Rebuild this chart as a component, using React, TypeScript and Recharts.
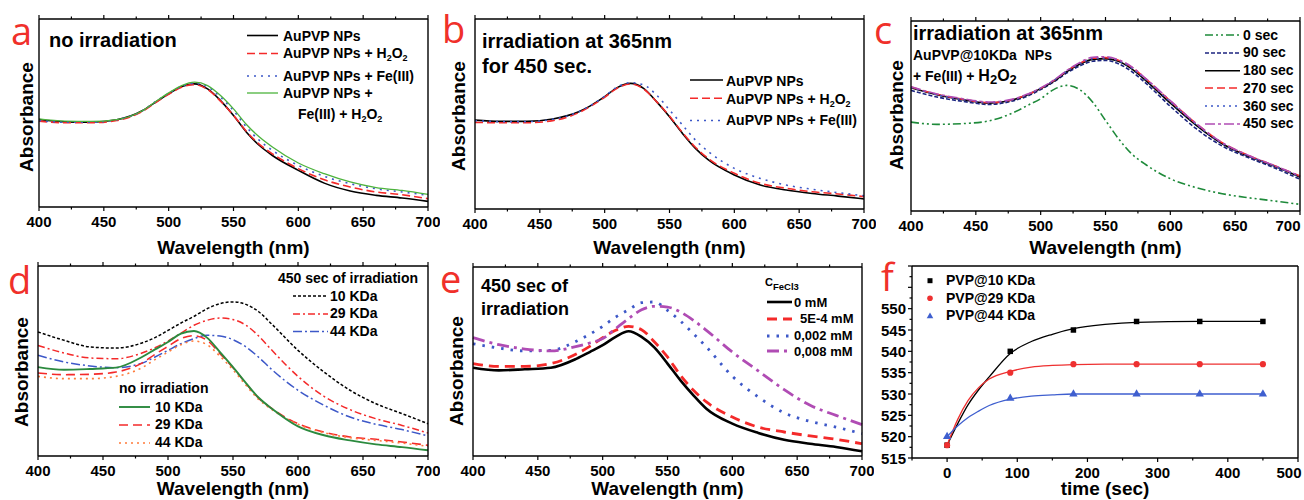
import React from 'react';
import { LineChart, ComposedChart, Line, Scatter, XAxis, YAxis, ZAxis } from 'recharts';

// ---------------- DATA ----------------
const WAVELENGTHS = [400, 420, 440, 460, 480, 490, 500, 510, 520, 530, 540, 550, 560, 570, 580, 600, 620, 640, 660, 680, 700];
const WL_TICKS = [400, 425, 450, 475, 500, 525, 550, 575, 600, 625, 650, 675, 700];

// panel a (no irradiation)
const A_AU = [46.5, 45.3, 45.1, 46.4, 51.3, 55.8, 60.2, 64.1, 65.5, 62.8, 56.6, 48.7, 39.8, 32.7, 27.4, 19.5, 12.7, 8.5, 6.2, 4.8, 3.0];
const A_H2O2 = [45.7, 44.8, 44.8, 46.0, 51.0, 55.6, 60.0, 63.7, 65.1, 62.5, 56.3, 48.7, 40.2, 33.3, 28.3, 20.4, 14.5, 10.6, 8.0, 6.5, 4.4];
const A_FE = [46.0, 45.1, 45.1, 46.4, 51.3, 56.1, 60.5, 64.2, 65.8, 64.0, 58.4, 51.3, 42.5, 35.4, 30.1, 22.1, 16.3, 12.4, 9.7, 8.0, 6.2];
const A_FE_H2O2 = [46.9, 45.7, 45.5, 46.5, 51.3, 56.1, 60.7, 64.6, 66.4, 64.6, 59.3, 52.2, 43.9, 37.2, 31.9, 23.4, 17.7, 13.3, 10.3, 8.8, 6.7];

// panel b (irradiation 450 s)
const B_AU = [46.8, 46.1, 46.1, 47.4, 51.2, 54.7, 59.1, 64.0, 66.1, 63.5, 56.5, 48.6, 39.8, 31.9, 25.8, 17.9, 12.6, 10.0, 8.2, 6.8, 5.3];
const B_H2O2 = [45.6, 45.4, 45.4, 46.5, 50.7, 54.4, 58.8, 63.7, 65.8, 63.2, 56.5, 48.9, 40.2, 32.5, 26.5, 18.8, 13.5, 10.9, 9.1, 7.9, 6.5];
const B_FE = [46.5, 46.0, 46.0, 47.2, 51.2, 54.9, 59.3, 64.4, 66.5, 65.3, 60.0, 52.1, 44.2, 36.3, 30.2, 21.4, 16.1, 12.6, 10.4, 8.6, 7.0];

// panel c (time series)
const C_0 = [46.8, 45.6, 46.0, 47.4, 52.1, 55.6, 59.1, 63.9, 66.1, 63.9, 57.4, 47.7, 38.1, 30.2, 24.9, 17.0, 12.3, 9.1, 7.0, 5.3, 3.5];
const C_90 = [63.5, 60.0, 57.7, 56.1, 58.2, 60.5, 63.9, 67.9, 72.6, 76.3, 78.8, 79.3, 77.5, 73.5, 67.9, 55.1, 43.3, 34.2, 28.1, 22.8, 16.7];
const C_180 = [64.9, 61.2, 58.6, 56.8, 58.8, 61.2, 64.4, 68.2, 73.2, 77.2, 79.8, 80.2, 78.8, 74.9, 69.3, 56.8, 45.1, 35.4, 28.9, 23.7, 17.9];
const C_270 = [65.3, 61.4, 58.8, 57.0, 58.9, 61.4, 64.6, 68.6, 73.7, 77.7, 80.4, 80.7, 79.3, 75.8, 70.2, 57.9, 46.0, 36.0, 29.3, 24.0, 18.4];
const C_360 = [65.0, 61.2, 58.6, 57.0, 58.9, 61.4, 64.6, 68.6, 73.5, 77.5, 80.2, 80.5, 79.0, 75.4, 69.8, 57.5, 45.6, 35.6, 29.0, 23.7, 18.1];
const C_450 = [65.4, 61.6, 59.1, 57.4, 59.1, 61.6, 64.8, 68.8, 73.9, 78.1, 80.9, 81.2, 79.6, 76.0, 70.4, 58.1, 46.0, 36.0, 29.3, 24.0, 18.4];

// panel d (PVP molecular weight)
const D_10_IRR = [65.3, 60.9, 57.4, 56.8, 59.5, 62.3, 66.1, 70.0, 73.5, 77.5, 80.2, 81.1, 79.8, 75.8, 69.3, 55.6, 44.2, 34.6, 27.5, 22.3, 17.0];
const D_29_IRR = [58.2, 54.2, 51.6, 51.2, 54.2, 57.0, 60.5, 64.7, 68.8, 71.4, 72.6, 71.8, 68.8, 63.0, 55.6, 41.9, 31.4, 24.4, 19.6, 16.1, 12.1];
const D_44_IRR = [53.0, 49.5, 47.4, 46.5, 48.9, 52.1, 55.6, 59.1, 61.8, 63.5, 63.2, 61.2, 57.4, 51.8, 45.4, 34.6, 26.7, 20.5, 16.7, 13.9, 10.5];
const D_10_NO = [46.8, 45.4, 45.8, 46.5, 52.1, 56.1, 60.0, 64.4, 65.8, 62.3, 54.7, 46.8, 38.4, 30.5, 24.9, 15.6, 10.9, 8.2, 6.1, 4.7, 3.0];
const D_29_NO = [43.7, 42.8, 43.0, 44.2, 48.9, 53.5, 57.7, 61.8, 63.3, 60.9, 53.9, 46.5, 38.1, 30.2, 24.9, 17.0, 12.6, 10.0, 8.8, 7.4, 5.6];
const D_44_NO = [41.9, 40.7, 40.7, 41.9, 46.5, 50.7, 54.7, 58.6, 60.5, 58.6, 52.5, 45.4, 37.2, 29.6, 24.4, 16.7, 12.3, 9.6, 8.2, 6.8, 5.1];

// panel e (FeCl3 concentration)
const E_0 = [46.7, 45.3, 45.9, 46.7, 51.5, 55.0, 58.6, 63.0, 66.0, 63.0, 57.3, 48.9, 40.0, 32.1, 25.0, 17.1, 12.2, 8.6, 6.5, 4.8, 2.5];
const E_5E4 = [48.9, 47.4, 47.4, 48.9, 54.1, 58.0, 62.6, 66.5, 68.6, 66.8, 60.3, 52.4, 42.7, 34.8, 28.6, 20.6, 15.3, 12.7, 10.6, 8.8, 6.5];
const E_002 = [59.4, 57.1, 55.6, 55.9, 60.8, 64.4, 68.6, 73.5, 77.4, 81.1, 81.5, 77.1, 71.4, 64.7, 57.7, 42.2, 31.2, 22.8, 18.3, 15.3, 11.8];
const E_008 = [62.6, 58.9, 56.6, 55.6, 58.0, 59.8, 62.1, 67.4, 72.7, 77.4, 79.2, 78.8, 76.2, 71.8, 66.5, 55.0, 45.0, 35.1, 26.8, 21.5, 16.6];

// panel f (peak position vs time)
const F_TIMES = [0, 90, 180, 270, 360, 450];
const F_10 = [518, 540, 545, 547, 547, 547];
const F_29 = [518, 535, 537, 537, 537, 537];
const F_44 = [520, 529, 530, 530, 530, 530];
const FIT_TIMES = [0, 15, 30, 45, 60, 90, 120, 150, 180, 225, 270, 360, 450];
const FIT_10 = [518, 523, 527.5, 531, 534, 539.5, 542.3, 544, 545.3, 546.3, 546.8, 547, 547];
const FIT_29 = [518, 524, 528.5, 531.5, 533.5, 535.3, 536.3, 536.7, 536.9, 537, 537, 537, 537];
const FIT_44 = [520, 522.5, 524.5, 526, 527.3, 528.8, 529.5, 529.8, 530, 530, 530, 530, 530];
const F_XTICKS = [-50, 0, 50, 100, 150, 200, 250, 300, 350, 400, 450, 500];
const F_YTICKS = [515, 517.5, 520, 522.5, 525, 527.5, 530, 532.5, 535, 537.5, 540, 542.5, 545, 547.5, 550, 552.5, 555, 557.5, 560];

// ---------------- STYLE ----------------
const FONT = '"Liberation Sans", Arial, Helvetica, sans-serif';
const LETTER_FONT = '"Open Sans", "Noto Sans", sans-serif';
const LETTER_RED = '#f0302a';
const RED = '#f42a2a';
const BLUE = '#3d58c8';
const ML = 40, MR = 12, MT = 10, MB = 40;
// axes take 1px each, so the margins are reduced by 1 to keep the plot rectangle in place
const MARGIN = { top: MT - 1, right: MR - 1, bottom: MB - 1, left: ML - 1 };

type Rect = { x: number; y: number; w: number; h: number };
const PA: Rect = { x: 39, y: 19, w: 389, h: 188 };
const PB: Rect = { x: 475, y: 19, w: 389, h: 190 };
const PC: Rect = { x: 911, y: 21, w: 389, h: 190 };
const PD: Rect = { x: 38, y: 266, w: 390, h: 190 };
const PE: Rect = { x: 473, y: 267, w: 389, h: 189 };
const PF: Rect = { x: 912, y: 266, w: 386, h: 192 };

type S = { key: string; values: number[]; color: string; width: number; dash?: string };

const SA: S[] = [
  { key: 'au', values: A_AU, color: '#000', width: 1.6 },
  { key: 'h2o2', values: A_H2O2, color: RED, width: 1.6, dash: '8 4' },
  { key: 'fe', values: A_FE, color: BLUE, width: 1.6, dash: '2 5' },
  { key: 'feh2o2', values: A_FE_H2O2, color: '#4db33d', width: 1.3 },
];
const SB: S[] = [
  { key: 'au', values: B_AU, color: '#000', width: 1.6 },
  { key: 'h2o2', values: B_H2O2, color: RED, width: 1.6, dash: '8 4' },
  { key: 'fe', values: B_FE, color: BLUE, width: 1.6, dash: '2 5' },
];
const SC: S[] = [
  { key: 's0', values: C_0, color: '#1e8a3a', width: 1.6, dash: '8 3 2 3 2 3' },
  { key: 's90', values: C_90, color: '#1c2580', width: 1.6, dash: '4 2' },
  { key: 's180', values: C_180, color: '#000', width: 1.6 },
  { key: 's270', values: C_270, color: RED, width: 1.6, dash: '8 4' },
  { key: 's360', values: C_360, color: BLUE, width: 1.6, dash: '2 4' },
  { key: 's450', values: C_450, color: '#b04cb4', width: 1.6, dash: '10 3 3 3' },
];
const SD: S[] = [
  { key: 'i10', values: D_10_IRR, color: '#000', width: 1.5, dash: '3 2' },
  { key: 'i29', values: D_29_IRR, color: RED, width: 1.5, dash: '7 3 2 3' },
  { key: 'i44', values: D_44_IRR, color: BLUE, width: 1.5, dash: '9 3 2 3' },
  { key: 'n29', values: D_29_NO, color: RED, width: 1.6, dash: '9 5' },
  { key: 'n44', values: D_44_NO, color: '#ff7b3a', width: 1.6, dash: '2 4' },
  { key: 'n10', values: D_10_NO, color: '#2b8a3e', width: 1.9 },
];
const SE: S[] = [
  { key: 'c0', values: E_0, color: '#000', width: 2.6 },
  { key: 'c5e4', values: E_5E4, color: RED, width: 2.8, dash: '10 6' },
  { key: 'c002', values: E_002, color: BLUE, width: 2.8, dash: '2.5 7' },
  { key: 'c008', values: E_008, color: '#b04cb4', width: 2.8, dash: '12 5 3 5' },
];

// ---------------- TICKS ----------------
const tickText = { fontFamily: FONT, fontWeight: 700, fontSize: 15, fill: '#000' } as const;

const makeXTick = (isMajor: (v: number) => boolean, dir: 1 | -1, labels: boolean, edgeValue?: number, edgeShift = 0) => (p: any) => {
  const { x, y, payload } = p;
  const v = payload.value;
  const maj = isMajor(v);
  const lx = v === edgeValue ? x + edgeShift : x;
  return (
    <g>
      <line x1={x} x2={x} y1={y} y2={y + dir * (maj ? 4 : 2.5)} stroke="#000" strokeWidth={1.2} />
      {labels && maj ? (
        <text x={lx} y={y + 19.5} textAnchor="middle" {...tickText}>{v}</text>
      ) : null}
    </g>
  );
};

const wlMajor = (v: number) => v % 50 === 0;
const WL_BOTTOM = makeXTick(wlMajor, 1, true);
const WL_BOTTOM_EDGE = makeXTick(wlMajor, 1, true, 700, -12);
const WL_TOP = makeXTick(wlMajor, -1, false);
const timeMajor = (v: number) => v % 100 === 0;
const T_BOTTOM = makeXTick(timeMajor, 1, true, 500, -9);
const T_TOP = makeXTick(timeMajor, -1, false);

const F_LEFT = (p: any) => {
  const { x, y, payload } = p;
  const v = payload.value;
  const maj = (v - 515) % 5 === 0;
  return (
    <g>
      <line x1={x} x2={x - (maj ? 4 : 2.5)} y1={y} y2={y} stroke="#000" strokeWidth={1.2} />
      {maj && v <= 550 ? (
        <text x={x - 6} y={y + 5.5} textAnchor="end" {...tickText}>{v}</text>
      ) : null}
    </g>
  );
};

const AX = { stroke: '#000', strokeWidth: 1.4 };

function SpectrumPanel({ r, series, edge = false }: { r: Rect; series: S[]; edge?: boolean }) {
  const rows = WAVELENGTHS.map((wl, i) => {
    const o: any = { wl };
    series.forEach((s) => { o[s.key] = s.values[i]; });
    return o;
  });
  return (
    <div style={{ position: 'absolute', left: r.x - ML, top: r.y - MT }}>
      <LineChart width={r.w + ML + MR} height={r.h + MT + MB} data={rows} margin={MARGIN}>
        <XAxis xAxisId="b" dataKey="wl" type="number" domain={[400, 700]} ticks={WL_TICKS} interval={0} height={1} tickSize={0} tickMargin={0} tickLine={false} axisLine={AX} tick={edge ? WL_BOTTOM_EDGE : WL_BOTTOM} />
        <XAxis xAxisId="t" orientation="top" dataKey="wl" type="number" domain={[400, 700]} ticks={WL_TICKS} interval={0} height={1} tickSize={0} tickMargin={0} tickLine={false} axisLine={AX} tick={WL_TOP} />
        <YAxis yAxisId="l" type="number" domain={[0, 100]} width={1} tick={false} tickLine={false} axisLine={AX} />
        <YAxis yAxisId="r" orientation="right" type="number" domain={[0, 100]} width={1} tick={false} tickLine={false} axisLine={AX} />
        {series.map((s) => (
          <Line key={s.key} xAxisId="b" yAxisId="l" dataKey={s.key} type="monotone" stroke={s.color} strokeWidth={s.width} strokeDasharray={s.dash} dot={false} activeDot={false} isAnimationActive={false} />
        ))}
      </LineChart>
    </div>
  );
}

const toRows = (ts: number[], vs: number[]) => ts.map((t, i) => ({ t, v: vs[i] }));

function TimePanel({ r }: { r: Rect }) {
  const F_RED = '#ee3030';
  const F_BLUE = '#3f5fcf';
  return (
    <div style={{ position: 'absolute', left: r.x - ML, top: r.y - MT }}>
      <ComposedChart width={r.w + ML + MR} height={r.h + MT + MB} margin={MARGIN}>
        <XAxis xAxisId="b" dataKey="t" type="number" domain={[-50, 500]} ticks={F_XTICKS} interval={0} height={1} tickSize={0} tickMargin={0} tickLine={false} axisLine={AX} tick={T_BOTTOM} />
        <XAxis xAxisId="t" orientation="top" dataKey="t" type="number" domain={[-50, 500]} ticks={F_XTICKS} interval={0} height={1} tickSize={0} tickMargin={0} tickLine={false} axisLine={AX} tick={T_TOP} />
        <YAxis yAxisId="l" dataKey="v" type="number" domain={[515, 560]} ticks={F_YTICKS} interval={0} width={1} tickSize={0} tickMargin={0} tickLine={false} axisLine={AX} tick={F_LEFT} />
        <YAxis yAxisId="r" orientation="right" dataKey="v" type="number" domain={[515, 560]} width={1} tick={false} tickLine={false} axisLine={AX} />
        <ZAxis range={[30, 30]} />
        <Line xAxisId="b" yAxisId="l" data={toRows(FIT_TIMES, FIT_10)} dataKey="v" type="monotone" stroke="#000" strokeWidth={1.3} dot={false} activeDot={false} isAnimationActive={false} />
        <Line xAxisId="b" yAxisId="l" data={toRows(FIT_TIMES, FIT_29)} dataKey="v" type="monotone" stroke={F_RED} strokeWidth={1.3} dot={false} activeDot={false} isAnimationActive={false} />
        <Line xAxisId="b" yAxisId="l" data={toRows(FIT_TIMES, FIT_44)} dataKey="v" type="monotone" stroke={F_BLUE} strokeWidth={1.3} dot={false} activeDot={false} isAnimationActive={false} />
        <Scatter xAxisId="b" yAxisId="l" data={toRows(F_TIMES, F_10)} shape="square" fill="#000" isAnimationActive={false} />
        <Scatter xAxisId="b" yAxisId="l" data={toRows(F_TIMES, F_29)} shape="circle" fill={F_RED} isAnimationActive={false} />
        <Scatter xAxisId="b" yAxisId="l" data={toRows(F_TIMES, F_44)} shape="triangle" fill={F_BLUE} isAnimationActive={false} />
      </ComposedChart>
    </div>
  );
}

// ---------------- TEXT OVERLAY ----------------
const T = ({ x, y, fs = 14, anchor = 'start', children }: any) => (
  <text x={x} y={y} fontSize={fs} fontFamily={FONT} fontWeight={700} textAnchor={anchor} fill="#000" style={{ whiteSpace: 'pre' }}>{children}</text>
);
const Letter = ({ x, y, children }: any) => (
  <text x={x} y={y} fontSize={38} fontFamily={LETTER_FONT} fontWeight={400} fill={LETTER_RED}>{children}</text>
);
const AbsLabel = ({ x, y }: any) => (
  <text x={x} y={y} transform={`rotate(-90 ${x} ${y})`} fontSize={19} fontFamily={FONT} fontWeight={700} textAnchor="middle" fill="#000">Absorbance</text>
);
const WlLabel = ({ r, y, text = 'Wavelength (nm)' }: any) => (
  <text x={r.x + r.w / 2} y={y} fontSize={19} fontFamily={FONT} fontWeight={700} textAnchor="middle" fill="#000">{text}</text>
);
const H2O2 = ({ fs = 9 }: any) => (
  <>
    <tspan>H</tspan><tspan fontSize={fs} dy={3}>2</tspan><tspan dy={-3}>O</tspan><tspan fontSize={fs} dy={3}>2</tspan>
  </>
);
const LS = ({ x1, x2, y, s }: { x1: number; x2: number; y: number; s: S }) => (
  <line x1={x1} x2={x2} y1={y} y2={y} stroke={s.color} strokeWidth={s.width} strokeDasharray={s.dash} />
);

function Overlay() {
  return (
    <svg width={1304} height={500} style={{ position: 'absolute', left: 0, top: 0, pointerEvents: 'none' }}>
      {/* panel letters */}
      <Letter x={11} y={45}>a</Letter>
      <Letter x={442} y={43}>b</Letter>
      <Letter x={874} y={44}>c</Letter>
      <Letter x={8} y={294}>d</Letter>
      <Letter x={440} y={293}>e</Letter>
      <Letter x={881} y={291}>f</Letter>

      {/* axis titles */}
      <AbsLabel x={33} y={117} />
      <AbsLabel x={465} y={116} />
      <AbsLabel x={903} y={115} />
      <AbsLabel x={28} y={372} />
      <AbsLabel x={463} y={371} />
      <WlLabel r={PA} y={254} />
      <WlLabel r={PB} y={254} />
      <WlLabel r={PC} y={254} />
      <WlLabel r={PD} y={495} />
      <WlLabel r={PE} y={495} />
      <WlLabel r={PF} y={495} text="time (sec)" />

      {/* panel a */}
      <T x={49} y={46.5} fs={20}>no irradiation</T>
      <LS x1={247} x2={278} y={35.5} s={SA[0]} />
      <LS x1={247} x2={278} y={53.5} s={SA[1]} />
      <LS x1={247} x2={278} y={76} s={SA[2]} />
      <LS x1={247} x2={278} y={93} s={SA[3]} />
      <T x={283} y={40.7}>AuPVP NPs</T>
      <T x={283} y={58}>AuPVP NPs + <H2O2 /></T>
      <T x={283} y={80.5}>AuPVP NPs + Fe(III)</T>
      <T x={283} y={97.5}>AuPVP NPs +</T>
      <T x={298} y={119}>Fe(III) + <H2O2 /></T>

      {/* panel b */}
      <T x={482} y={48.3} fs={20}>irradiation at 365nm</T>
      <T x={482} y={72.7} fs={20}>for 450 sec.</T>
      <LS x1={690} x2={723} y={80} s={SB[0]} />
      <LS x1={690} x2={723} y={98.3} s={SB[1]} />
      <LS x1={690} x2={723} y={120.5} s={SB[2]} />
      <T x={726} y={85.5}>AuPVP NPs</T>
      <T x={726} y={103.5}>AuPVP NPs + <H2O2 /></T>
      <T x={726} y={125}>AuPVP NPs + Fe(III)</T>

      {/* panel c */}
      <T x={913} y={40} fs={20}>irradiation at 365nm</T>
      <T x={913} y={59.5} fs={14}>{'AuPVP@10KDa  NPs'}</T>
      <T x={913} y={81} fs={14}>+ Fe(III) + <tspan fontSize={16}>H</tspan><tspan fontSize={13} dy={3}>2</tspan><tspan fontSize={16} dy={-3}>O</tspan><tspan fontSize={13} dy={3}>2</tspan></T>
      {SC.map((s, i) => (
        <LS key={s.key} x1={1205} x2={1240} y={[35, 53, 70.7, 88, 106, 124][i]} s={s} />
      ))}
      <T x={1243} y={39.5}>0 sec</T>
      <T x={1243} y={57.3}>90 sec</T>
      <T x={1243} y={75}>180 sec</T>
      <T x={1243} y={92.7}>270 sec</T>
      <T x={1243} y={110.7}>360 sec</T>
      <T x={1243} y={128.3}>450 sec</T>

      {/* panel d */}
      <T x={278} y={283.3}>450 sec of irradiation</T>
      <LS x1={293} x2={328} y={296} s={SD[0]} />
      <LS x1={293} x2={328} y={314} s={SD[1]} />
      <LS x1={293} x2={328} y={331.5} s={SD[2]} />
      <T x={330} y={300.7}>10 KDa</T>
      <T x={330} y={318.3}>29 KDa</T>
      <T x={330} y={336}>44 KDa</T>
      <T x={119} y={393.3}>no irradiation</T>
      <LS x1={119} x2={150} y={407} s={SD[5]} />
      <LS x1={119} x2={150} y={425} s={SD[3]} />
      <LS x1={119} x2={150} y={443} s={SD[4]} />
      <T x={155} y={411.7}>10 KDa</T>
      <T x={155} y={429.3}>29 KDa</T>
      <T x={155} y={447.3}>44 KDa</T>

      {/* panel e */}
      <T x={481} y={291.7} fs={18}>450 sec of</T>
      <T x={481} y={315} fs={18}>irradiation</T>
      <T x={765} y={286} fs={11}>C<tspan fontSize={9.5} dy={4}>FeCl3</tspan></T>
      <LS x1={767} x2={792} y={302} s={SE[0]} />
      <LS x1={767} x2={792} y={319} s={SE[1]} />
      <LS x1={767} x2={792} y={336} s={SE[2]} />
      <LS x1={767} x2={792} y={351} s={SE[3]} />
      <T x={794} y={306.7} fs={13}>0 mM</T>
      <T x={800} y={323.3} fs={13}>5E-4 mM</T>
      <T x={794} y={340} fs={13}>0,002 mM</T>
      <T x={794} y={355.5} fs={13}>0,008 mM</T>

      {/* panel f */}
      <rect x={927.5} y={278.2} width={5} height={5} fill="#000" />
      <circle cx={930} cy={298.3} r={2.8} fill="#ee3030" />
      <polygon points="930,312.5 933.3,318.3 926.7,318.3" fill="#3f5fcf" />
      <T x={946} y={285}>PVP@10 KDa</T>
      <T x={946} y={302.7}>PVP@29 KDa</T>
      <T x={946} y={320}>PVP@44 KDa</T>
    </svg>
  );
}

export default function App() {
  return (
    <div style={{ position: 'absolute', left: 0, top: 0, width: 1304, height: 500, overflow: 'hidden', background: '#fff' }}>
      <SpectrumPanel r={PA} series={SA} />
      <SpectrumPanel r={PB} series={SB} />
      <SpectrumPanel r={PC} series={SC} edge />
      <SpectrumPanel r={PD} series={SD} />
      <SpectrumPanel r={PE} series={SE} />
      <TimePanel r={PF} />
      <Overlay />
    </div>
  );
}
